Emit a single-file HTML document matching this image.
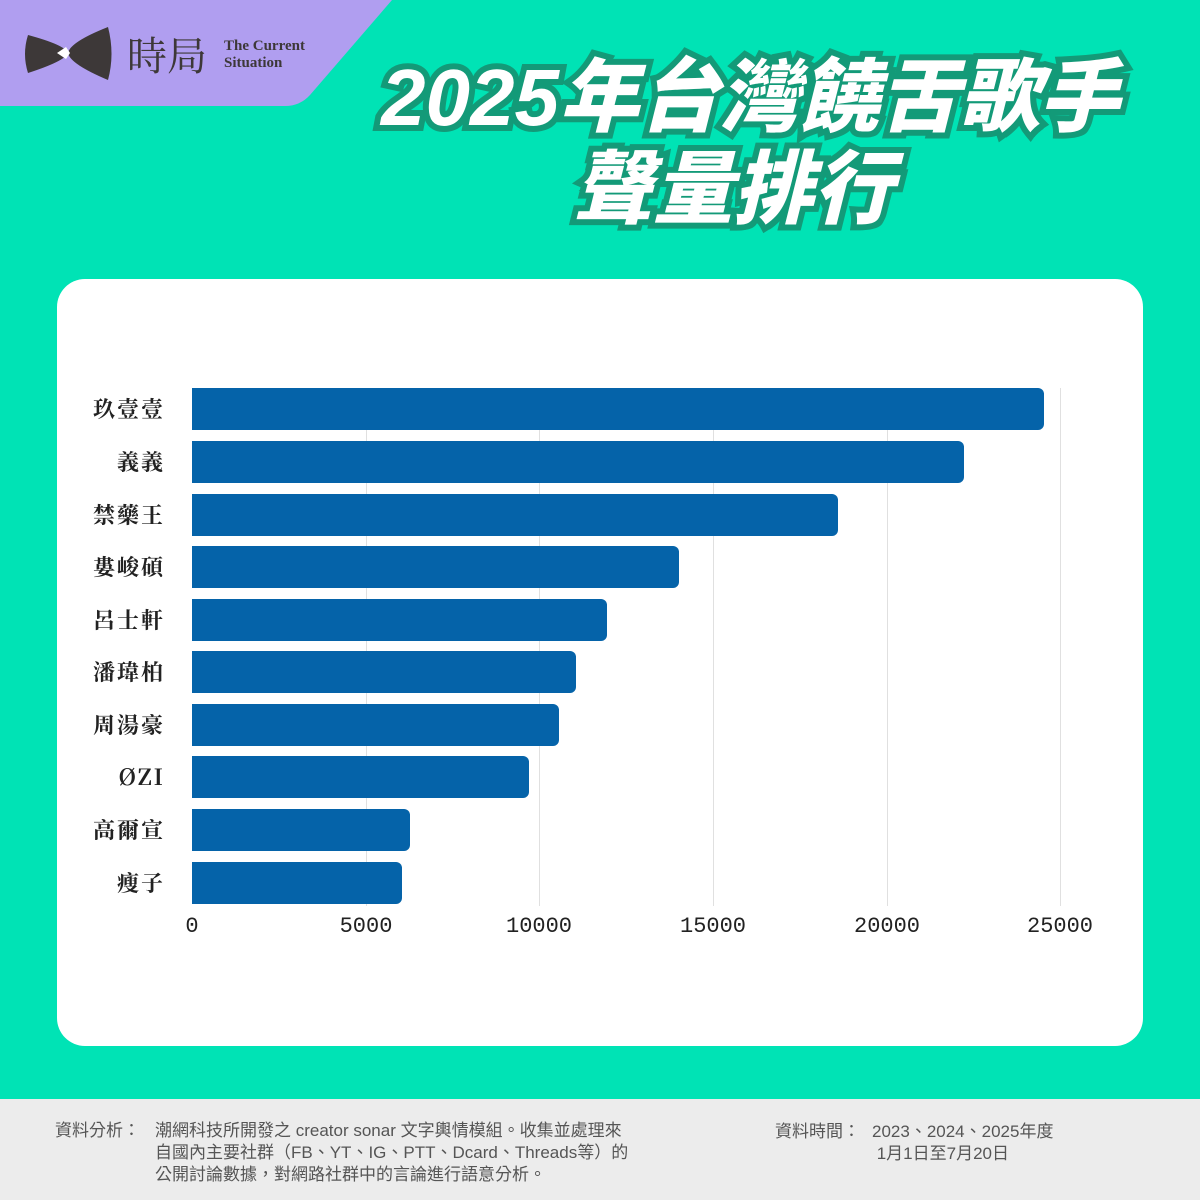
<!DOCTYPE html>
<html><head><meta charset="utf-8"><style>
body{margin:0;width:1200px;height:1200px;position:relative;background:#00e3b5;overflow:hidden;font-family:"Liberation Sans","Noto Sans CJK TC",sans-serif}
.abs{position:absolute}
.title{position:absolute;left:0;width:1200px;text-align:center;color:#fff;font-weight:900;font-style:italic;font-family:"Liberation Sans","Noto Sans CJK TC",sans-serif;-webkit-text-stroke:12px #139a78;paint-order:stroke fill;text-shadow:4px 5px 0 #139a78}
.card{left:57px;top:279px;width:1086px;height:767px;background:#fff;border-radius:28px}
.grid{position:absolute;top:388px;height:518px;width:1px;background:#e0e0e0}
.bar{position:absolute;left:192px;height:42px;background:#0563a9;border-radius:0 6px 6px 0}
.lab{position:absolute;right:1035px;font-size:22px;font-weight:700;color:#222;font-family:"Noto Serif CJK SC","Liberation Serif",serif;line-height:42px;letter-spacing:2px}
.tick{position:absolute;top:914px;font-size:22px;color:#222;font-family:"Liberation Mono",monospace;transform:translateX(-50%)}
.foot{left:0;top:1099px;width:1200px;height:101px;background:#ececec}
.ft{font-size:17px;color:#555;line-height:22px;font-family:"Liberation Sans","Noto Sans CJK TC",sans-serif}
</style></head><body>
<svg class="abs" style="left:0;top:0" width="400" height="110"><path d="M0 0H392L310 95Q300 106 285 106H0Z" fill="#b09ef0"/>
<path d="M28 35Q65 45 68 53L68 53Q65 61 28 73Q22 54 28 35Z" fill="#3d3838"/>
<path d="M108 27Q70 42 68 53Q70 64 108 80Q115 54 108 27Z" fill="#3d3838"/>
<path d="M57 53L66 47L70 53L66 59Z" fill="#fff"/>
</svg>
<div class="abs" style="left:127px;top:30px;font-size:40px;color:#3d3838;font-family:'Noto Serif CJK SC',serif;line-height:48px">時局</div>
<div class="abs" style="left:224px;top:38px;font-size:15px;font-weight:700;color:#3d3838;font-family:'Liberation Serif',serif;line-height:17px">The Current<br>Situation</div>
<div class="title" style="top:50px;font-size:80px;line-height:96px;padding-left:150px">2025年台灣饒舌歌手</div>
<div class="title" style="top:142px;font-size:80px;line-height:96px;padding-left:133px">聲量排行</div>
<div class="abs card"></div>
<div class="grid" style="left:366px"></div><div class="grid" style="left:539px"></div><div class="grid" style="left:713px"></div><div class="grid" style="left:887px"></div><div class="grid" style="left:1060px"></div>
<div class="bar" style="top:388px;width:852px"></div>
<div class="bar" style="top:441px;width:772px"></div>
<div class="bar" style="top:494px;width:646px"></div>
<div class="bar" style="top:546px;width:487px"></div>
<div class="bar" style="top:599px;width:415px"></div>
<div class="bar" style="top:651px;width:384px"></div>
<div class="bar" style="top:704px;width:367px"></div>
<div class="bar" style="top:756px;width:337px"></div>
<div class="bar" style="top:809px;width:218px"></div>
<div class="bar" style="top:862px;width:210px"></div>
<div class="lab" style="top:388px">玖壹壹</div>
<div class="lab" style="top:441px">義義</div>
<div class="lab" style="top:494px">禁藥王</div>
<div class="lab" style="top:546px">婁峻碩</div>
<div class="lab" style="top:599px">呂士軒</div>
<div class="lab" style="top:651px">潘瑋柏</div>
<div class="lab" style="top:704px">周湯豪</div>
<div class="lab" style="top:756px">ØZI</div>
<div class="lab" style="top:809px">高爾宣</div>
<div class="lab" style="top:862px">瘦子</div>
<div class="tick" style="left:192px">0</div><div class="tick" style="left:366px">5000</div><div class="tick" style="left:539px">10000</div><div class="tick" style="left:713px">15000</div><div class="tick" style="left:887px">20000</div><div class="tick" style="left:1060px">25000</div>
<div class="abs foot"></div>
<div class="abs ft" style="left:55px;top:1120px">資料分析：</div>
<div class="abs ft" style="left:155px;top:1120px">潮網科技所開發之 creator sonar 文字輿情模組。收集並處理來<br>自國內主要社群（FB、YT、IG、PTT、Dcard、Threads等）的<br>公開討論數據，對網路社群中的言論進行語意分析。</div>
<div class="abs ft" style="left:775px;top:1121px">資料時間：</div>
<div class="abs ft" style="left:872px;top:1121px">2023、2024、2025年度<br>&nbsp;1月1日至7月20日</div>
</body></html>
